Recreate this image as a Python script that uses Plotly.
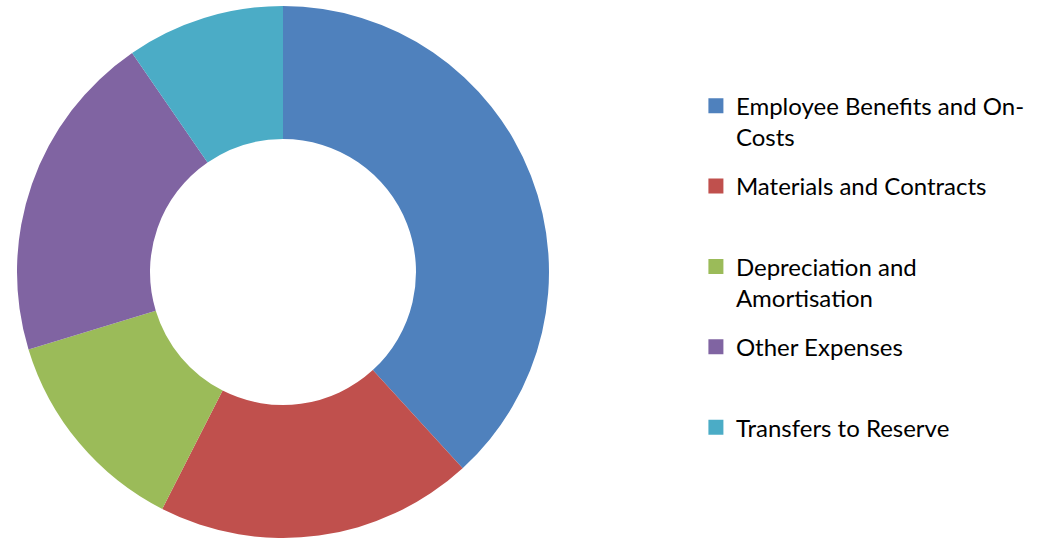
import plotly.graph_objects as go

labels = [
    "Employee Benefits and On-<br>Costs",
    "Materials and Contracts<br> ",
    "Depreciation and<br>Amortisation",
    "Other Expenses<br> ",
    "Transfers to Reserve<br> ",
]
values = [38.2, 19.3, 12.8, 20.1, 9.6]
colors = ["#4F81BD", "#C0504D", "#9BBB59", "#8064A2", "#4BACC6"]

W, H = 1041, 539

fig = go.Figure()
fig.add_trace(go.Pie(
    labels=labels,
    values=values,
    hole=0.5,
    sort=False,
    direction="clockwise",
    rotation=0,
    textinfo="none",
    showlegend=False,
    marker=dict(colors=colors, line=dict(width=0)),
    domain=dict(x=[17 / W, 549 / W], y=[1 / H, 533 / H]),
))

# legend entries (one per slice) so spacing between items can be controlled
for lab, col in zip(labels, colors):
    fig.add_trace(go.Scatter(
        x=[None], y=[None], mode="markers", name=lab, legendgroup=lab,
        marker=dict(symbol="square", size=15, color=col),
        showlegend=True, hoverinfo="skip",
    ))

fig.update_layout(
    width=W, height=H,
    margin=dict(l=0, r=0, t=0, b=0),
    paper_bgcolor="white",
    plot_bgcolor="white",
    xaxis=dict(visible=False),
    yaxis=dict(visible=False),
    showlegend=True,
    legend=dict(
        x=0.6685, y=0.845, xanchor="left", yanchor="top",
        font=dict(family="Lato, Open Sans, sans-serif", size=24, color="#000000"),
        valign="top",
        traceorder="grouped",
        tracegroupgap=15,
        itemclick=False,
        bgcolor="rgba(0,0,0,0)",
    ),
)

fig.write_html("out.html", config={"displayModeBar": False},
               post_script="document.body.style.margin='0';")
